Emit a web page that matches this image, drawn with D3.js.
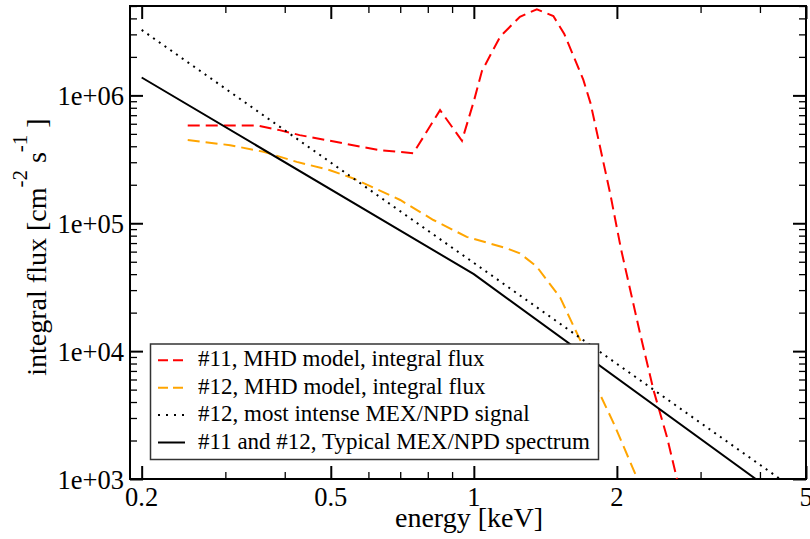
<!DOCTYPE html>
<html>
<head>
<meta charset="utf-8">
<script src="https://cdn.jsdelivr.net/npm/d3@7"></script>
<style>
  body { margin: 0; background: #fff; }
  svg { display: block; font-family: "Liberation Serif", "Times New Roman", serif; }
</style>
</head>
<body>
<div id="chart"></div>
<script>
// axis ticks
const energyTicks = [0.2, 0.5, 1, 2, 5];
const energyTickLabels = ["0.2", "0.5", "1", "2", "5"];
const energyMinorTicks = [0.3, 0.4, 0.6, 0.7, 0.8, 0.9, 3, 4];
const fluxTicks = [1e3, 1e4, 1e5, 1e6];
const fluxTickLabels = ["1e+03", "1e+04", "1e+05", "1e+06"];

// #11, MHD model, integral flux
const mhd11Energy = [0.25, 0.35, 0.39, 0.43, 0.49, 0.595, 0.635, 0.746, 0.849, 0.944, 1.0, 1.04, 1.136, 1.25, 1.357, 1.47, 1.55, 1.634, 1.70, 1.76, 1.84, 1.936, 2.04, 2.238, 2.389, 2.549, 2.676];
const mhd11Flux   = [5.82e5, 5.82e5, 5.35e5, 4.89e5, 4.47e5, 3.89e5, 3.73e5, 3.53e5, 7.67e5, 4.42e5, 9.0e5, 1.55e6, 2.88e6, 4.12e6, 4.71e6, 4.17e6, 3.02e6, 1.89e6, 1.32e6, 8.7e5, 4.07e5, 1.71e5, 6.3e4, 1.37e4, 4.94e3, 2.13e3, 1.0e3];

// #12, MHD model, integral flux
const mhd12Energy = [0.25, 0.307, 0.361, 0.424, 0.498, 0.558, 0.70, 0.822, 0.966, 1.173, 1.25, 1.357, 1.424, 1.519, 1.60, 1.687, 1.785, 1.967, 2.21];
const mhd12Flux   = [4.47e5, 4.08e5, 3.62e5, 3.02e5, 2.60e5, 2.24e5, 1.52e5, 1.06e5, 7.83e4, 6.37e4, 5.82e4, 4.57e4, 3.60e4, 2.63e4, 1.74e4, 1.15e4, 5.9e3, 2.75e3, 1.0e3];

// #12, most intense MEX/NPD signal
const intenseEnergy = [0.2, 1, 4.41];
const intenseFlux   = [3.25e6, 4.9e4, 1.0e3];

// #11 and #12, typical MEX/NPD spectrum
const typicalEnergy = [0.2, 1, 3.92];
const typicalFlux   = [1.38e6, 4.0e4, 1.0e3];

const legendLabels = [
  "#11, MHD model, integral flux",
  "#12, MHD model, integral flux",
  "#12, most intense MEX/NPD signal",
  "#11 and #12, Typical MEX/NPD spectrum"
];

const W = 810, H = 539;
const margin = { top: 6, right: 4, bottom: 60, left: 130 };
const width = W - margin.left - margin.right,
      height = H - margin.top - margin.bottom;

const svg = d3.select("#chart").append("svg")
  .attr("width", W).attr("height", H);

const x = d3.scaleLog().domain([0.189, 5]).range([margin.left, margin.left + width]);
const y = d3.scaleLog().domain([1e3, 5e6]).range([margin.top + height, margin.top]);

// minor flux ticks 2..9 per decade
const fluxMinorTicks = [1e3, 1e4, 1e5, 1e6]
  .flatMap(d => [2, 3, 4, 5, 6, 7, 8, 9].map(k => k * d))
  .filter(v => v <= 5e6);

svg.append("defs").append("clipPath").attr("id", "plot-clip")
  .append("rect")
  .attr("x", margin.left).attr("y", margin.top)
  .attr("width", width).attr("height", height);

// ticks on all four sides, pointing inwards
function tickAxis(axisFn, scale, values, size, transform, sw) {
  const g = svg.append("g")
    .attr("transform", transform)
    .call(axisFn(scale).tickValues(values).tickSize(-size).tickFormat(""));
  g.select(".domain").remove();
  g.selectAll("line").attr("stroke", "#000").attr("stroke-width", sw);
  return g;
}
const bottomY = margin.top + height, rightX = margin.left + width;
tickAxis(d3.axisBottom, x, energyTicks, 13, `translate(0,${bottomY})`, 2);
tickAxis(d3.axisBottom, x, energyMinorTicks, 7, `translate(0,${bottomY})`, 1.3);
tickAxis(d3.axisTop, x, energyTicks, 13, `translate(0,${margin.top})`, 2);
tickAxis(d3.axisTop, x, energyMinorTicks, 7, `translate(0,${margin.top})`, 1.3);
tickAxis(d3.axisLeft, y, fluxTicks, 13, `translate(${margin.left},0)`, 2);
tickAxis(d3.axisLeft, y, fluxMinorTicks, 7, `translate(${margin.left},0)`, 1.3);
tickAxis(d3.axisRight, y, fluxTicks, 13, `translate(${rightX},0)`, 2);
tickAxis(d3.axisRight, y, fluxMinorTicks, 7, `translate(${rightX},0)`, 1.3);

// frame
svg.append("rect")
  .attr("x", margin.left).attr("y", margin.top)
  .attr("width", width).attr("height", height)
  .attr("fill", "none").attr("stroke", "#000").attr("stroke-width", 2);

// tick labels
svg.selectAll(".xlab").data(energyTicks).enter().append("text")
  .attr("class", "xlab")
  .attr("x", d => x(d)).attr("y", bottomY + 26.5)
  .attr("text-anchor", "middle").style("font-size", "26.5px")
  .text((d, i) => energyTickLabels[i]);

svg.selectAll(".ylab").data(fluxTicks).enter().append("text")
  .attr("class", "ylab")
  .attr("x", margin.left - 6).attr("y", d => y(d) + 9.5)
  .attr("text-anchor", "end").style("font-size", "26.5px")
  .text((d, i) => fluxTickLabels[i]);

// axis titles
svg.append("text")
  .attr("x", 469).attr("y", 527)
  .attr("text-anchor", "middle").style("font-size", "28px")
  .text("energy [keV]");

const yt = svg.append("text")
  .attr("transform", "translate(46,247) rotate(-90)")
  .attr("text-anchor", "middle").style("font-size", "28px");
yt.append("tspan").text("integral flux [cm");
yt.append("tspan").attr("dy", -19).style("font-size", "21px").text("-2");
yt.append("tspan").attr("dy", 19).text(" s");
yt.append("tspan").attr("dy", -19).style("font-size", "21px").text("-1");
yt.append("tspan").attr("dy", 19).text(" ]");

// curves
const series = [
  { e: mhd11Energy, f: mhd11Flux, color: "#ff0000", dash: "12,6" },
  { e: mhd12Energy, f: mhd12Flux, color: "#ffa500", dash: "12,6" },
  { e: intenseEnergy, f: intenseFlux, color: "#000", dash: "2,5" },
  { e: typicalEnergy, f: typicalFlux, color: "#000", dash: null }
];

const line = d3.line().x(d => x(d[0])).y(d => y(d[1]));

const plot = svg.append("g").attr("clip-path", "url(#plot-clip)");
series.forEach(s => {
  plot.append("path")
    .datum(s.e.map((e, i) => [e, s.f[i]]))
    .attr("d", line)
    .attr("fill", "none")
    .attr("stroke", s.color)
    .attr("stroke-width", 2)
    .attr("stroke-dasharray", s.dash);
});

// legend
const lg = svg.append("g");
lg.append("rect")
  .attr("x", 150.5).attr("y", 344)
  .attr("width", 448).attr("height", 115.5)
  .attr("fill", "#fff").attr("stroke", "#333").attr("stroke-width", 1.5);

series.forEach((s, i) => {
  const by = 366.3 + i * 27.4;
  lg.append("line")
    .attr("x1", 158).attr("x2", 185)
    .attr("y1", by - 6).attr("y2", by - 6)
    .attr("stroke", s.color).attr("stroke-width", 2)
    .attr("stroke-dasharray", s.dash ? (s.dash === "2,5" ? "2,6" : "10,5") : null);
  lg.append("text")
    .attr("x", 198).attr("y", by)
    .style("font-size", "23px")
    .text(legendLabels[i]);
});
</script>
</body>
</html>
